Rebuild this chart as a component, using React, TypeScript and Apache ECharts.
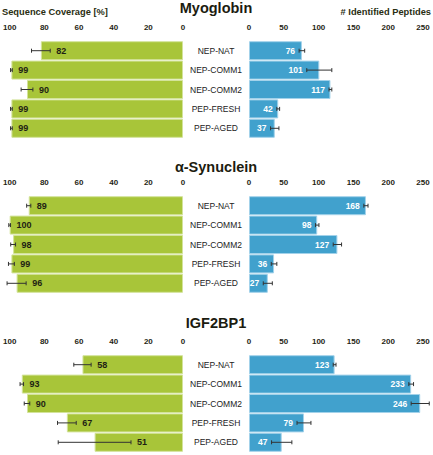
import React, { useEffect, useRef } from "react";
import * as echarts from "echarts";

// Sample categories shared by every protein panel
const categories = ["NEP-NAT", "NEP-COMM1", "NEP-COMM2", "PEP-FRESH", "PEP-AGED"];
const proteins = ["Myoglobin", "α-Synuclein", "IGF2BP1"];

// Sequence coverage [%] (mean and standard deviation) per protein
const coverageMyo = [82, 99, 90, 99, 99];
const coverageMyoSd = [5.4, 0.5, 3.4, 0.5, 0.5];
const coverageSyn = [89, 100, 98, 99, 96];
const coverageSynSd = [1.2, 0.5, 1.4, 1.7, 5.5];
const coverageIgf = [58, 93, 90, 67, 51];
const coverageIgfSd = [5, 1, 1.6, 5.4, 21];

// Number of identified peptides (mean and standard deviation) per protein
const peptidesMyo = [76, 101, 117, 42, 37];
const peptidesMyoSd = [4, 18, 2, 2, 6];
const peptidesSyn = [168, 98, 127, 36, 27];
const peptidesSynSd = [3, 2.5, 6, 4, 6.5];
const peptidesIgf = [123, 233, 246, 79, 47];
const peptidesIgfSd = [2, 3.4, 13, 10, 14.6];

// Axis ticks
const coverageMax = 100;
const coverageStep = 20;
const peptidesMax = 250;
const peptidesStep = 50;

const coverage = [coverageMyo, coverageSyn, coverageIgf];
const coverageSd = [coverageMyoSd, coverageSynSd, coverageIgfSd];
const peptides = [peptidesMyo, peptidesSyn, peptidesIgf];
const peptidesSd = [peptidesMyoSd, peptidesSynSd, peptidesIgfSd];

const GREEN = "#A8C539";
const GREEN_EDGE = "#D3E39A";
const BLUE = "#41A1CD";
const BLUE_EDGE = "#A3D2EA";
const INK = "#1f1f14";
const FONT = "Liberation Sans, Arial, sans-serif";

const panelTops = [41, 196, 355];
const panelHeight = 97;
const titleYs = [8, 167, 323];

function errorRenderer(side: "left" | "right") {
  return (params: any, api: any) => {
    const mean = api.value(0);
    const cat = api.value(1);
    const sd = api.value(2);
    const y = api.coord([mean, cat])[1];
    const xa = api.coord([mean + sd, cat])[0];
    const xb = api.coord([mean - sd, cat])[0];
    const lo = Math.min(xa, xb);
    const hi = Math.max(xa, xb);
    const lineStyle = { stroke: "#333", lineWidth: 1 };
    const cap = 2;
    const label =
      side === "left"
        ? {
            type: "text",
            style: {
              text: String(mean),
              x: hi + 6,
              y,
              align: "left",
              verticalAlign: "middle",
              fill: INK,
              fontSize: 9,
              fontWeight: "bold",
              fontFamily: FONT,
            },
          }
        : {
            type: "text",
            style: {
              text: String(mean),
              x: lo - 4,
              y,
              align: "right",
              verticalAlign: "middle",
              fill: "#ffffff",
              fontSize: 8.5,
              fontWeight: "bold",
              fontFamily: FONT,
            },
          };
    return {
      type: "group",
      children: [
        { type: "line", shape: { x1: lo, y1: y, x2: hi, y2: y }, style: lineStyle },
        { type: "line", shape: { x1: lo, y1: y - cap, x2: lo, y2: y + cap }, style: lineStyle },
        { type: "line", shape: { x1: hi, y1: y - cap, x2: hi, y2: y + cap }, style: lineStyle },
        label,
      ],
    };
  };
}

export default function App() {
  const ref = useRef<HTMLDivElement>(null);

  useEffect(() => {
    if (!ref.current) return;
    const chart = echarts.init(ref.current, undefined, { renderer: "svg" });

    const grids: any[] = [];
    const xAxes: any[] = [];
    const yAxes: any[] = [];
    const series: any[] = [];

    const tickLabel = {
      fontSize: 8,
      fontWeight: "bold",
      color: INK,
      fontFamily: FONT,
      margin: 10,
    };

    proteins.forEach((_, i) => {
      const top = panelTops[i];
      grids.push({ left: 8, width: 175, top, height: panelHeight });
      grids.push({ left: 249, width: 174, top, height: panelHeight });

      xAxes.push({
        gridIndex: 2 * i,
        type: "value",
        inverse: true,
        min: 0,
        max: coverageMax,
        interval: coverageStep,
        position: "top",
        axisLine: { show: false },
        axisTick: { show: false },
        splitLine: { show: false },
        axisLabel: tickLabel,
      });
      xAxes.push({
        gridIndex: 2 * i + 1,
        type: "value",
        min: 0,
        max: peptidesMax,
        interval: peptidesStep,
        position: "top",
        axisLine: { show: false },
        axisTick: { show: false },
        splitLine: { show: false },
        axisLabel: tickLabel,
      });

      yAxes.push({
        gridIndex: 2 * i,
        type: "category",
        data: categories,
        inverse: true,
        axisLine: { show: false },
        axisTick: { show: false },
        axisLabel: { show: false },
      });
      yAxes.push({
        gridIndex: 2 * i + 1,
        type: "category",
        data: categories,
        inverse: true,
        position: "left",
        axisLine: { show: false },
        axisTick: { show: false },
        axisLabel: {
          align: "center",
          margin: 33,
          fontSize: 8.5,
          color: "#222",
          fontFamily: FONT,
        },
      });

      series.push({
        type: "bar",
        xAxisIndex: 2 * i,
        yAxisIndex: 2 * i,
        data: coverage[i],
        barCategoryGap: "2%",
        itemStyle: { color: GREEN, borderColor: GREEN_EDGE, borderWidth: 1 },
      });
      series.push({
        type: "bar",
        xAxisIndex: 2 * i + 1,
        yAxisIndex: 2 * i + 1,
        data: peptides[i],
        barCategoryGap: "2%",
        itemStyle: { color: BLUE, borderColor: BLUE_EDGE, borderWidth: 1 },
      });
      series.push({
        type: "custom",
        xAxisIndex: 2 * i,
        yAxisIndex: 2 * i,
        renderItem: errorRenderer("left"),
        encode: { x: 0, y: 1 },
        data: coverage[i].map((v, k) => [v, k, coverageSd[i][k]]),
        z: 5,
      });
      series.push({
        type: "custom",
        xAxisIndex: 2 * i + 1,
        yAxisIndex: 2 * i + 1,
        renderItem: errorRenderer("right"),
        encode: { x: 0, y: 1 },
        data: peptides[i].map((v, k) => [v, k, peptidesSd[i][k]]),
        z: 5,
      });
    });

    const graphic: any[] = proteins.map((name, i) => ({
      type: "text",
      x: 216,
      y: titleYs[i],
      style: {
        text: name,
        align: "center",
        verticalAlign: "middle",
        fill: "#1c1c10",
        fontSize: 14.5,
        fontWeight: "bold",
        fontFamily: FONT,
      },
    }));
    graphic.push({
      type: "text",
      x: 2,
      y: 12,
      style: {
        text: "Sequence Coverage [%]",
        align: "left",
        verticalAlign: "middle",
        fill: "#2a2e12",
        fontSize: 9.3,
        fontWeight: "bold",
        fontFamily: FONT,
      },
    });
    graphic.push({
      type: "text",
      x: 431,
      y: 12,
      style: {
        text: "# Identified Peptides",
        align: "right",
        verticalAlign: "middle",
        fill: "#2a2e12",
        fontSize: 9.3,
        fontWeight: "bold",
        fontFamily: FONT,
      },
    });

    chart.setOption({
      animation: false,
      backgroundColor: "#ffffff",
      grid: grids,
      xAxis: xAxes,
      yAxis: yAxes,
      series,
      graphic,
    });

    return () => chart.dispose();
  }, []);

  return (
    <div
      ref={ref}
      style={{ position: "fixed", left: 0, top: 0, width: 433, height: 455 }}
    />
  );
}
